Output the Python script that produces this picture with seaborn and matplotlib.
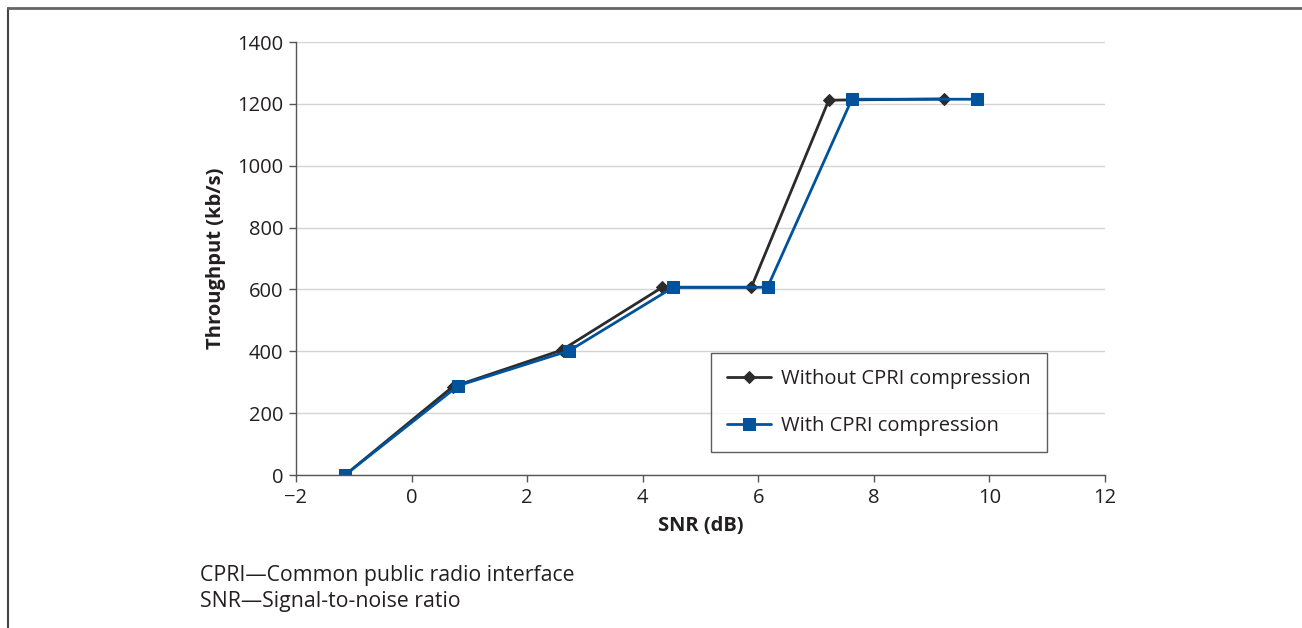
import numpy as np
import pandas as pd
import seaborn as sns
from matplotlib import pyplot as plt
from matplotlib.lines import Line2D

# Data
snr_without = [-1.15, 0.71, 2.6, 4.34, 5.88, 7.22, 9.22]
tput_without = [0, 285, 404, 607, 607, 1212, 1216]
snr_with = [-1.15, 0.81, 2.73, 4.53, 6.16, 7.62, 9.79]
tput_with = [0, 289, 402, 607, 607, 1215, 1215]
series_names = ["Without CPRI compression", "With CPRI compression"]
x_ticks = [-2, 0, 2, 4, 6, 8, 10, 12]
x_tick_labels = ["\u22122", "0", "2", "4", "6", "8", "10", "12"]
y_ticks = [0, 200, 400, 600, 800, 1000, 1200, 1400]
footnotes = ["CPRI\u2014Common public radio interface", "SNR\u2014Signal-to-noise ratio"]

sns.set_style("white")
plt.rcParams["font.family"] = ["Open Sans", "DejaVu Sans"]

df = pd.concat(
    [
        pd.DataFrame({"snr": snr_without, "tput": tput_without, "series": series_names[0]}),
        pd.DataFrame({"snr": snr_with, "tput": tput_with, "series": series_names[1]}),
    ],
    ignore_index=True,
)

text_color = "#231f20"
colors = {series_names[0]: "#2b2b2b", series_names[1]: "#00529b"}
markers = {series_names[0]: "D", series_names[1]: "s"}
sizes = {series_names[0]: 6.5, series_names[1]: 9}

fig = plt.figure(figsize=(13.02, 6.28), dpi=100)
ax = fig.add_axes([0.2273, 0.2436, 0.6214, 0.6895])

for name in series_names:
    sns.lineplot(
        data=df[df["series"] == name],
        x="snr",
        y="tput",
        color=colors[name],
        marker=markers[name],
        markersize=sizes[name],
        markeredgecolor=colors[name],
        linewidth=2,
        label=name,
        sort=False,
        ax=ax,
    )

ax.set_xlim(-2, 12)
ax.set_ylim(0, 1400)
ax.set_xticks(x_ticks)
ax.set_xticklabels(x_tick_labels)
ax.set_yticks(y_ticks)
ax.tick_params(axis="both", labelsize=14.5, colors="#555555", labelcolor=text_color,
               direction="out", length=5, width=1, pad=4, left=True, bottom=True)
ax.yaxis.grid(True, color="#d4d4d4", linewidth=1)
ax.xaxis.grid(False)
ax.set_axisbelow(True)
sns.despine(ax=ax)
for side in ["left", "bottom"]:
    ax.spines[side].set_color("#555555")
    ax.spines[side].set_linewidth(1)

ax.set_xlabel("SNR (dB)", fontsize=14.5, fontweight="bold", color=text_color, labelpad=6)
ax.set_ylabel("Throughput (kb/s)", fontsize=14.5, fontweight="bold", color=text_color, labelpad=8)

leg = ax.legend(
    loc="upper left",
    bbox_to_anchor=(0.513, 0.2818),
    bbox_transform=ax.transAxes,
    fontsize=14.5,
    frameon=True,
    fancybox=False,
    edgecolor="#333333",
    borderpad=0.8,
    labelspacing=1.35,
    handlelength=2.2,
    handletextpad=0.5,
    borderaxespad=0,
)
leg.get_frame().set_linewidth(1)
for t in leg.get_texts():
    t.set_color(text_color)

fig.text(200 / 1302, 1 - 576 / 628, footnotes[0], fontsize=15.3, color=text_color, va="center")
fig.text(200 / 1302, 1 - 602 / 628, footnotes[1], fontsize=15.3, color=text_color, va="center")

# Outer frame (top and left edges)
fig.add_artist(Line2D([8 / 1302, 8 / 1302], [0, 1 - 8 / 628], color="#444444", linewidth=1.5,
                      transform=fig.transFigure))
fig.add_artist(Line2D([8 / 1302, 1], [1 - 8 / 628, 1 - 8 / 628], color="#666666", linewidth=2,
                      transform=fig.transFigure))

fig.savefig("out.png", dpi=100)
